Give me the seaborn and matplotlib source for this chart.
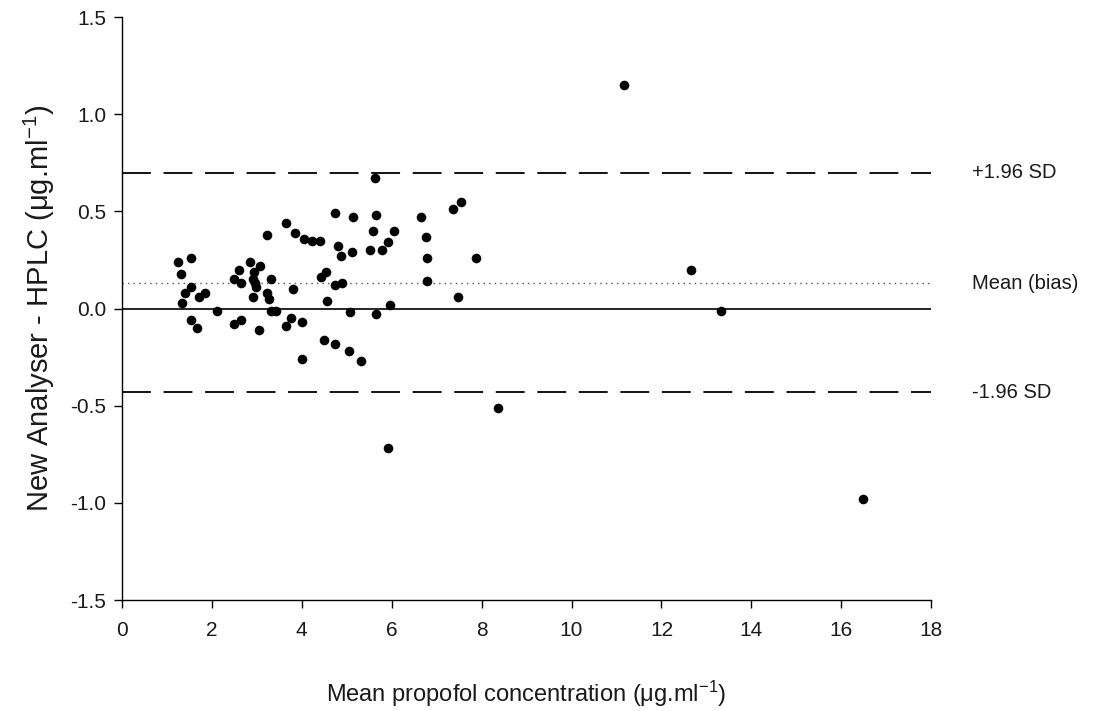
import matplotlib
matplotlib.use("Agg")
import matplotlib.pyplot as plt
import seaborn as sns
import pandas as pd

mean_conc = [1.25, 1.55, 1.31, 1.53, 1.40, 1.34, 1.72, 1.85, 1.55, 1.68, 2.11,
             2.61, 2.49, 2.66, 2.86, 3.07, 2.95, 2.92, 2.97, 2.99, 2.91, 3.22,
             3.28, 3.31, 3.43, 3.32, 3.80, 2.49, 2.66, 3.06, 3.65, 3.76, 4.01,
             3.23, 3.66, 3.85, 4.06, 4.01,
             5.64, 4.74, 5.15, 5.66, 6.65, 4.23, 4.40, 5.59, 6.06, 5.92, 6.76,
             4.81, 4.88, 5.12, 5.52, 5.78, 6.79, 4.53, 4.42, 4.75, 4.90, 6.78,
             4.57, 5.97, 5.07, 5.66, 4.50, 4.75, 5.06, 5.33,
             7.37, 7.54, 7.88, 7.47,
             11.17, 12.66, 13.33, 16.49, 8.37, 5.92]
difference = [0.24, 0.26, 0.18, 0.11, 0.08, 0.03, 0.06, 0.08, -0.06, -0.10, -0.01,
              0.20, 0.15, 0.13, 0.24, 0.22, 0.19, 0.15, 0.13, 0.11, 0.06, 0.08,
              0.05, -0.01, -0.01, 0.15, 0.10, -0.08, -0.06, -0.11, -0.09, -0.05, -0.07,
              0.38, 0.44, 0.39, 0.36, -0.26,
              0.67, 0.49, 0.47, 0.48, 0.47, 0.35, 0.35, 0.40, 0.40, 0.34, 0.37,
              0.32, 0.27, 0.29, 0.30, 0.30, 0.26, 0.19, 0.16, 0.12, 0.13, 0.14,
              0.04, 0.02, -0.02, -0.03, -0.16, -0.18, -0.22, -0.27,
              0.51, 0.55, 0.26, 0.06,
              1.15, 0.20, -0.01, -0.98, -0.51, -0.72]

upper_loa = 0.70
bias = 0.13
lower_loa = -0.43
line_labels = ["+1.96 SD", "Mean (bias)", "-1.96 SD"]
x_ticks = [0, 2, 4, 6, 8, 10, 12, 14, 16, 18]
y_ticks = [-1.5, -1.0, -0.5, 0.0, 0.5, 1.0, 1.5]

sns.set_style("ticks")
plt.rcParams['font.family'] = ['Liberation Sans', 'DejaVu Sans']
plt.rcParams['mathtext.fontset'] = 'custom'
plt.rcParams['mathtext.rm'] = 'Liberation Sans'
plt.rcParams['mathtext.it'] = 'Liberation Sans'
plt.rcParams['mathtext.default'] = 'regular'

txt_color = "#1a1a1a"
df = pd.DataFrame({"x": mean_conc, "y": difference})

fig = plt.figure(figsize=(10.97, 7.11), dpi=100)
ax = fig.add_axes([0.111, 0.156, 0.738, 0.820])

sns.scatterplot(data=df, x="x", y="y", ax=ax, color="black", s=48,
                edgecolor="black", linewidth=0, zorder=3)

ax.axhline(upper_loa, color="black", lw=1.3, dashes=(16, 7))
ax.axhline(lower_loa, color="black", lw=1.3, dashes=(16, 7))
ax.axhline(bias, color="#555555", lw=1.0, dashes=(1, 3))
ax.axhline(0, color="black", lw=1.2)

for val, lab in zip([upper_loa, bias, lower_loa], line_labels):
    ax.text(18.9, val, lab, va="center", ha="left", fontsize=14.5,
            color=txt_color, clip_on=False)

ax.set_xlim(0, 18)
ax.set_ylim(-1.5, 1.5)
ax.set_xticks(x_ticks)
ax.set_yticks(y_ticks)
ax.set_yticklabels([f"{t:.1f}" for t in y_ticks])
ax.tick_params(direction="out", length=6, width=1, labelsize=15,
               colors="black", labelcolor=txt_color)
ax.tick_params(axis="x", pad=9)
ax.tick_params(axis="y", pad=5)
for sp in ["top", "right"]:
    ax.spines[sp].set_visible(False)
for sp in ["left", "bottom"]:
    ax.spines[sp].set_color("black")
    ax.spines[sp].set_linewidth(1.0)

ax.set_xlabel(r"Mean propofol concentration ($\mu$g.ml$^{-1}$)", fontsize=17,
              labelpad=28, color=txt_color)
ax.set_ylabel(r"New Analyser - HPLC ($\mu$g.ml$^{-1}$)", fontsize=21,
              labelpad=10, color=txt_color)

fig.savefig("out.png", dpi=100)
